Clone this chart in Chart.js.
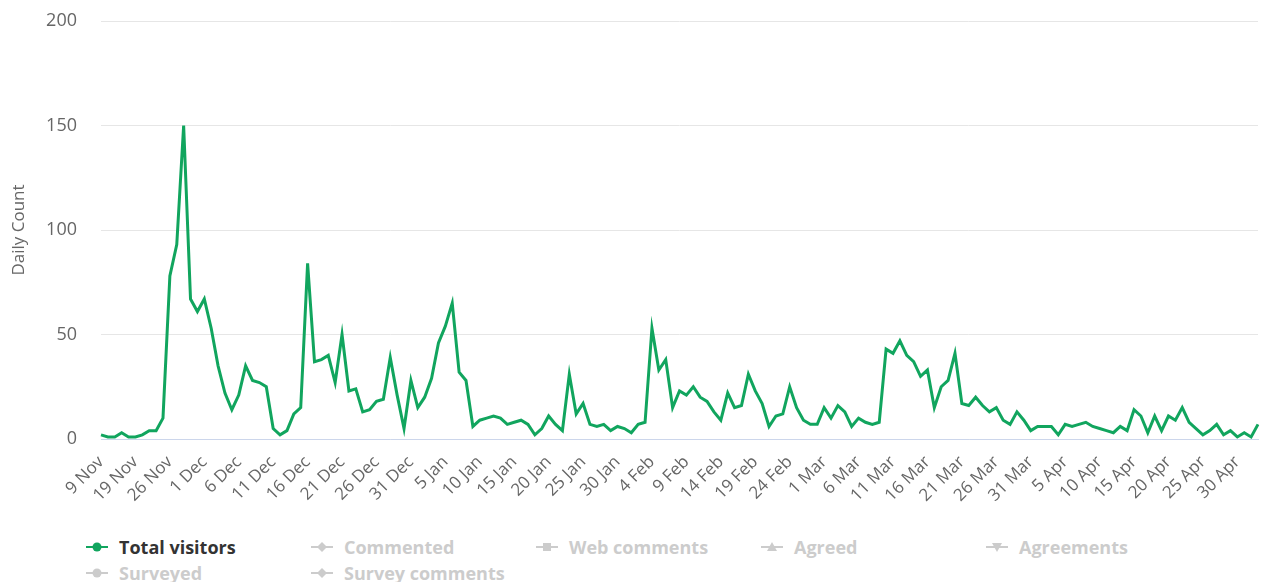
<!DOCTYPE html>
<html>
<head>
<meta charset="utf-8">
<script src="https://cdn.jsdelivr.net/npm/chart.js@4.4.0/dist/chart.umd.min.js"></script>
<style>
  html, body { margin: 0; padding: 0; background: #fff; }
  #wrap { position: relative; width: 1261px; height: 529px; }
  #legend {
    position: absolute; left: 86px; top: 534px; width: 1170px;
    font-family: 'Open Sans', sans-serif; font-weight: bold; font-size: 18px;
  }
  .item { display: inline-flex; align-items: center; width: 225px; height: 26px; white-space: nowrap; }
  .item svg { margin-right: 11px; }
</style>
</head>
<body>
<div id="wrap"><canvas id="chart"></canvas></div>
<div id="legend"></div>
<script>
const dates = [
  '9 Nov', '11 Nov', '13 Nov', '15 Nov', '17 Nov', '19 Nov', '21 Nov', '22 Nov', '23 Nov', '24 Nov',
  '26 Nov', '27 Nov', '28 Nov', '29 Nov', '30 Nov',
  '1 Dec', '2 Dec', '3 Dec', '4 Dec', '5 Dec', '6 Dec', '7 Dec', '8 Dec', '9 Dec', '10 Dec',
  '11 Dec', '12 Dec', '13 Dec', '14 Dec', '15 Dec', '16 Dec', '17 Dec', '18 Dec', '19 Dec', '20 Dec',
  '21 Dec', '22 Dec', '23 Dec', '24 Dec', '25 Dec', '26 Dec', '27 Dec', '28 Dec', '29 Dec', '30 Dec', '31 Dec',
  '1 Jan', '2 Jan', '3 Jan', '4 Jan', '5 Jan', '6 Jan', '7 Jan', '8 Jan', '9 Jan', '10 Jan',
  '11 Jan', '12 Jan', '13 Jan', '14 Jan', '15 Jan', '16 Jan', '17 Jan', '18 Jan', '19 Jan', '20 Jan',
  '21 Jan', '22 Jan', '23 Jan', '24 Jan', '25 Jan', '26 Jan', '27 Jan', '28 Jan', '29 Jan', '30 Jan', '31 Jan',
  '1 Feb', '2 Feb', '3 Feb', '4 Feb', '5 Feb', '6 Feb', '7 Feb', '8 Feb', '9 Feb', '10 Feb',
  '11 Feb', '12 Feb', '13 Feb', '14 Feb', '15 Feb', '16 Feb', '17 Feb', '18 Feb', '19 Feb', '20 Feb',
  '21 Feb', '22 Feb', '23 Feb', '24 Feb', '25 Feb', '26 Feb', '27 Feb', '28 Feb',
  '1 Mar', '2 Mar', '3 Mar', '4 Mar', '5 Mar', '6 Mar', '7 Mar', '8 Mar', '9 Mar', '10 Mar',
  '11 Mar', '12 Mar', '13 Mar', '14 Mar', '15 Mar', '16 Mar', '17 Mar', '18 Mar', '19 Mar', '20 Mar',
  '21 Mar', '22 Mar', '23 Mar', '24 Mar', '25 Mar', '26 Mar', '27 Mar', '28 Mar', '29 Mar', '30 Mar', '31 Mar',
  '1 Apr', '2 Apr', '3 Apr', '4 Apr', '5 Apr', '6 Apr', '7 Apr', '8 Apr', '9 Apr', '10 Apr',
  '11 Apr', '12 Apr', '13 Apr', '14 Apr', '15 Apr', '16 Apr', '17 Apr', '18 Apr', '19 Apr', '20 Apr',
  '21 Apr', '22 Apr', '23 Apr', '24 Apr', '25 Apr', '26 Apr', '27 Apr', '28 Apr', '29 Apr', '30 Apr',
  '1 May', '2 May', '3 May'
];

const totalVisitors = [
  2, 1, 1, 3, 1, 1, 2, 4, 4, 10,
  78, 93, 150, 67, 61, 67, 53, 35, 22, 14,
  21, 35, 28, 27, 25, 5, 2, 4, 12, 15,
  84, 37, 38, 40, 27, 50, 23, 24, 13, 14,
  18, 19, 39, 21, 5, 28, 15, 20, 29, 46,
  54, 65, 32, 28, 6, 9, 10, 11, 10, 7,
  8, 9, 7, 2, 5, 11, 7, 4, 31, 12,
  17, 7, 6, 7, 4, 6, 5, 3, 7, 8,
  53, 33, 38, 15, 23, 21, 25, 20, 18, 13,
  9, 22, 15, 16, 31, 23, 17, 6, 11, 12,
  25, 15, 9, 7, 7, 15, 10, 16, 13, 6,
  10, 8, 7, 8, 43, 41, 47, 40, 37, 30,
  33, 15, 25, 28, 41, 17, 16, 20, 16, 13,
  15, 9, 7, 13, 9, 4, 6, 6, 6, 2,
  7, 6, 7, 8, 6, 5, 4, 3, 6, 4,
  14, 11, 3, 11, 4, 11, 9, 15, 8, 5,
  2, 4, 7, 2, 4, 1, 3, 1, 7
];

const seriesNames = ['Total visitors', 'Commented', 'Web comments', 'Agreed', 'Agreements', 'Surveyed', 'Survey comments'];
const seriesSymbols = ['circle', 'diamond', 'square', 'triangle', 'triangle-down', 'circle', 'diamond'];
const yTicks = [0, 50, 100, 150, 200];

const green = '#11a55e';

const datasets = seriesNames.map((name, i) => ({
  label: name,
  data: i === 0 ? totalVisitors : [],
  hidden: i !== 0,
  borderColor: green,
  backgroundColor: green,
  borderWidth: 3,
  pointRadius: 0,
  tension: 0,
  fill: false
}));

const ctx = document.getElementById('chart').getContext('2d');
const chart = new Chart(ctx, {
  type: 'line',
  data: { labels: dates, datasets: datasets },
  options: {
    responsive: true,
    maintainAspectRatio: false,
    animation: false,
    layout: { padding: { top: 21, right: 3, left: 0, bottom: 0 } },
    plugins: { legend: { display: false }, tooltip: { enabled: false } },
    scales: {
      x: {
        offset: false,
        grid: { display: false },
        border: { display: true, color: '#ccd6eb', width: 1 },
        ticks: {
          autoSkip: false,
          maxRotation: 45,
          minRotation: 45,
          padding: 5,
          color: '#666',
          font: { family: 'Open Sans', size: 17 },
          callback: (v, i) => (i % 5 === 0 ? dates[i] : '')
        },
        afterFit: scale => {
          scale.height = 90;
          scale.paddingLeft = 0;
          scale.paddingRight = 0;
        }
      },
      y: {
        min: 0,
        max: 200,
        afterBuildTicks: scale => { scale.ticks = yTicks.map(v => ({ value: v })); },
        grid: { color: '#e6e6e6', drawTicks: false },
        border: { display: false },
        ticks: {
          padding: 24,
          color: '#666',
          font: { family: 'Open Sans', size: 18 }
        },
        title: {
          display: true,
          text: 'Daily Count',
          color: '#666',
          font: { family: 'Open Sans', size: 17 },
          padding: { top: 9, bottom: 0 }
        },
        afterFit: scale => {
          scale.width = 101;
          scale.paddingTop = 0;
          scale.paddingBottom = 0;
        }
      }
    }
  }
});

function symbolSvg(shape, color) {
  let marker = '';
  if (shape === 'circle') marker = `<circle cx="11" cy="8" r="4.5" fill="${color}"/>`;
  if (shape === 'diamond') marker = `<polygon points="11,3 16,8 11,13 6,8" fill="${color}"/>`;
  if (shape === 'square') marker = `<rect x="7" y="4" width="8" height="8" fill="${color}"/>`;
  if (shape === 'triangle') marker = `<polygon points="11,3 16,12 6,12" fill="${color}"/>`;
  if (shape === 'triangle-down') marker = `<polygon points="6,4 16,4 11,13" fill="${color}"/>`;
  return `<svg width="22" height="16"><line x1="0" y1="8" x2="22" y2="8" stroke="${color}" stroke-width="2"/>${marker}</svg>`;
}

const legend = document.getElementById('legend');
chart.data.datasets.forEach((ds, i) => {
  const on = !ds.hidden;
  const item = document.createElement('span');
  item.className = 'item';
  item.style.color = on ? '#333' : '#ccc';
  item.innerHTML = symbolSvg(seriesSymbols[i], on ? green : '#ccc') + '<span>' + ds.label + '</span>';
  legend.appendChild(item);
});
</script>
</body>
</html>
